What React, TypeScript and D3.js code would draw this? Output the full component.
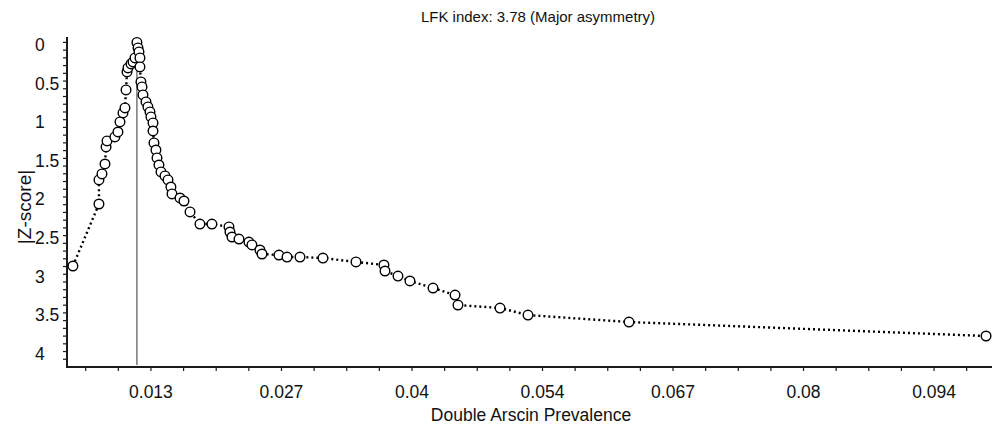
import { useEffect, useRef } from 'react';
import * as d3 from 'd3';

// Doi plot points, in drawing order (left limb up to the peak, then right limb down)
const prevalence = [
  0.00529, 0.00796, 0.00796, 0.00827, 0.00858, 0.00869, 0.00879, 0.0096, 0.00991, 0.01012,
  0.01043, 0.01063, 0.01074, 0.01084, 0.01094, 0.01125, 0.01146, 0.01166, 0.01186, 0.01197,
  0.01207, 0.01217, 0.01217, 0.01227, 0.01238, 0.01248, 0.01279, 0.01299, 0.0132, 0.0133,
  0.01351, 0.01351, 0.01361, 0.01381, 0.01392, 0.01412, 0.01433, 0.01474, 0.01505, 0.01535,
  0.01546, 0.01628, 0.01669, 0.01731, 0.01833, 0.01956, 0.02131, 0.02141, 0.02162, 0.02234,
  0.02336, 0.02367, 0.02449, 0.0247, 0.02644, 0.02727, 0.0286, 0.03096, 0.03435, 0.03722,
  0.03733, 0.03866, 0.03989, 0.04226, 0.04452, 0.04482, 0.04914, 0.05201, 0.06238, 0.09904
];
const zScores = [
  2.893, 2.091, 1.78, 1.702, 1.573, 1.353, 1.275, 1.223, 1.159, 1.029,
  0.913, 0.848, 0.615, 0.382, 0.33, 0.278, 0.252, 0.201, 0.0, 0.071,
  0.123, 0.201, 0.317, 0.511, 0.576, 0.68, 0.77, 0.835, 0.9, 0.964,
  1.042, 1.146, 1.301, 1.392, 1.495, 1.586, 1.676, 1.728, 1.78, 1.871,
  1.961, 2.013, 2.052, 2.194, 2.35, 2.35, 2.388, 2.453, 2.518, 2.544,
  2.583, 2.621, 2.686, 2.738, 2.751, 2.777, 2.777, 2.79, 2.841, 2.88,
  2.958, 3.023, 3.087, 3.178, 3.269, 3.398, 3.437, 3.528, 3.618, 3.799
];

const xTickValues = [0.0133, 0.0267, 0.0401, 0.0535, 0.0669, 0.0803, 0.0937];
const xTickLabels = ['0.013', '0.027', '0.04', '0.054', '0.067', '0.08', '0.094'];
const yTickValues = [0, 0.5, 1, 1.5, 2, 2.5, 3, 3.5, 4];
const yTickLabels = ['0', '0.5', '1', '1.5', '2', '2.5', '3', '3.5', '4'];

const titleText = 'LFK index: 3.78 (Major asymmetry)';
const xTitle = 'Double Arscin Prevalence';
const yTitle = '|Z-score|';

const WIDTH = 998;
const HEIGHT = 426;
const FONT = '"Liberation Sans", Arial, sans-serif';

export default function App() {
  const svgRef = useRef<SVGSVGElement | null>(null);

  useEffect(() => {
    if (!svgRef.current) return;
    const svg = d3.select(svgRef.current);
    svg.selectAll('*').remove();

    const x = d3.scaleLinear().domain([0.00468, 0.09965]).range([67, 992]);
    const y = d3.scaleLinear().domain([-0.07, 4.2]).range([37, 367]);
    const [x0, x1] = x.range();
    const [yTop, yBottom] = y.range();

    // minor ticks: quarters of the x label step, tenths on y
    const xStep = (xTickValues[1] - xTickValues[0]) / 4;
    const xMinor = d3.range(xTickValues[0] - 2 * xStep, x.domain()[1], xStep);
    const yMinor = d3.range(0, 4.15, 0.1);

    const axes = svg.append('g').attr('stroke', '#1a1a1a').attr('stroke-width', 1.2);
    axes
      .selectAll('line.xtick')
      .data(xMinor)
      .join('line')
      .attr('class', 'xtick')
      .attr('x1', d => x(d))
      .attr('x2', d => x(d))
      .attr('y1', yBottom)
      .attr('y2', yBottom + 4);
    axes
      .selectAll('line.ytick')
      .data(yMinor)
      .join('line')
      .attr('class', 'ytick')
      .attr('x1', x0 - 4)
      .attr('x2', x0)
      .attr('y1', d => y(d))
      .attr('y2', d => y(d));

    svg
      .append('path')
      .attr('d', `M${x0},${yTop}V${yBottom}H${x1}`)
      .attr('fill', 'none')
      .attr('stroke', '#1a1a1a')
      .attr('stroke-width', 2);

    // vertical reference line through the peak
    const peakIndex = zScores.indexOf(d3.min(zScores) as number);
    svg
      .append('line')
      .attr('x1', x(prevalence[peakIndex]))
      .attr('x2', x(prevalence[peakIndex]))
      .attr('y1', y(zScores[peakIndex]))
      .attr('y2', yBottom - 2)
      .attr('stroke', '#333')
      .attr('stroke-width', 1);

    const points = prevalence.map((p, i) => [p, zScores[i]] as [number, number]);
    const line = d3
      .line<[number, number]>()
      .x(d => x(d[0]))
      .y(d => y(d[1]));

    svg
      .append('path')
      .datum(points)
      .attr('d', line)
      .attr('fill', 'none')
      .attr('stroke', '#000')
      .attr('stroke-width', 2.4)
      .attr('stroke-dasharray', '2,3');

    svg
      .append('g')
      .selectAll('circle')
      .data(points)
      .join('circle')
      .attr('cx', d => x(d[0]))
      .attr('cy', d => y(d[1]))
      .attr('r', 4.8)
      .attr('fill', '#fff')
      .attr('stroke', '#000')
      .attr('stroke-width', 1.4);

    const text = svg.append('g').attr('font-family', FONT).attr('fill', '#111');
    text
      .selectAll('text.xlab')
      .data(xTickValues)
      .join('text')
      .attr('class', 'xlab')
      .attr('x', d => x(d))
      .attr('y', 398)
      .attr('text-anchor', 'middle')
      .attr('font-size', 17.5)
      .text((_, i) => xTickLabels[i]);
    text
      .selectAll('text.ylab')
      .data(yTickValues)
      .join('text')
      .attr('class', 'ylab')
      .attr('x', 35)
      .attr('y', d => y(d) + 8.5)
      .attr('text-anchor', 'start')
      .attr('font-size', 17.5)
      .text((_, i) => yTickLabels[i]);

    text
      .append('text')
      .attr('x', 538)
      .attr('y', 22)
      .attr('text-anchor', 'middle')
      .attr('font-size', 15)
      .text(titleText);
    text
      .append('text')
      .attr('x', 531)
      .attr('y', 421)
      .attr('text-anchor', 'middle')
      .attr('font-size', 17.5)
      .text(xTitle);
    text
      .append('text')
      .attr('transform', 'translate(31,207) rotate(-90)')
      .attr('text-anchor', 'middle')
      .attr('font-size', 19)
      .text(yTitle);
  }, []);

  return (
    <svg
      ref={svgRef}
      width={WIDTH}
      height={HEIGHT}
      style={{ position: 'absolute', left: 0, top: 0, background: '#fff' }}
    />
  );
}
